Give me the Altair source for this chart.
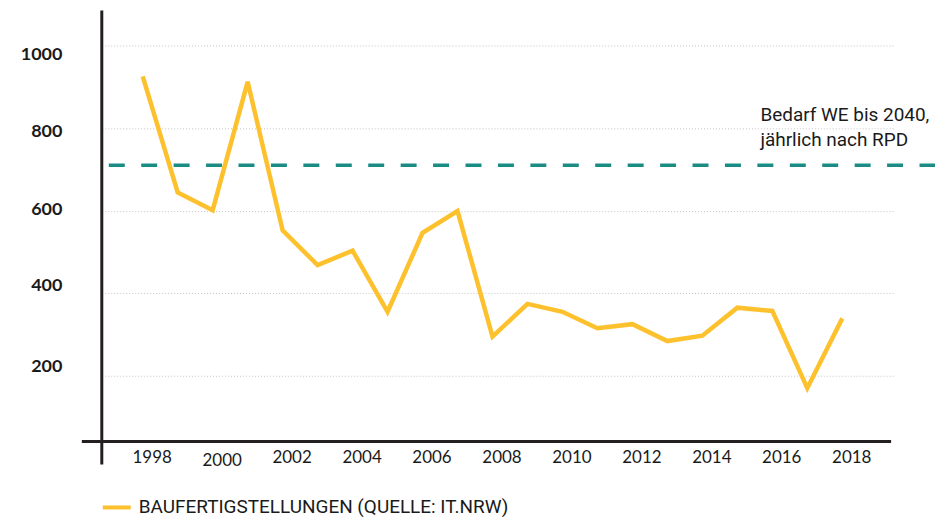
import altair as alt
import pandas as pd

years = list(range(1998, 2019))
values = [925, 644, 601, 912, 552, 468, 503, 355, 546, 599, 295,
          374, 355, 315, 325, 284, 297, 365, 357, 170, 339]
series_name = "BAUFERTIGSTELLUNGEN (QUELLE: IT.NRW)"
bedarf_value = 710
bedarf_text = "Bedarf WE bis 2040,\njährlich nach RPD"
y_ticks = [200, 400, 600, 800, 1000]
x_ticks = list(range(1998, 2019, 2))

YELLOW = "#FDC12E"
TEAL = "#1A8C84"
INK = "#231f20"

df = pd.DataFrame({"Jahr": years, "Wert": values, "Reihe": series_name})
df_bedarf = pd.DataFrame({"Wert": [bedarf_value], "txt": [bedarf_text]})
df_dummy = pd.DataFrame({"a": [0]})

W, H = 795, 432
xscale = alt.Scale(domain=[1996.83, 2019.51], nice=False, zero=False)
yscale = alt.Scale(domain=[40.5, 1084.6], nice=False, zero=False)

x_axis = alt.Axis(values=x_ticks, format="d", grid=False, domain=False, ticks=False,
                  labelFont="Lato", labelFontSize=17, labelColor="#1a1a1a",
                  labelPadding={"condition": {"test": "datum.value == 2000", "value": 11}, "value": 8},
                  labelOffset=9, labelOverlap=False, labelFlush=False, title=None)
y_axis = alt.Axis(values=y_ticks, format="d", grid=True, gridDash=[1, 2], gridColor="#c4c4c4", gridWidth=1,
                  domain=False, ticks=False, labelFont="Lato", labelFontWeight="bold",
                  labelFontSize=18, labelColor="#1a1a1a", labelPadding=40,
                  labelOffset={"condition": [
                      {"test": "datum.value == 1000", "value": 9},
                      {"test": "datum.value == 800", "value": 3},
                      {"test": "datum.value == 600", "value": -1},
                      {"test": "datum.value == 400", "value": -8}], "value": -9},
                  title=None)

y_enc = alt.Y("Wert:Q", scale=yscale, axis=y_axis)

line = alt.Chart(df).mark_line(strokeWidth=4.5, strokeJoin="miter").encode(
    x=alt.X("Jahr:Q", scale=xscale, axis=x_axis),
    y=y_enc,
    color=alt.Color("Reihe:N", scale=alt.Scale(domain=[series_name], range=[YELLOW]),
                    legend=alt.Legend(title=None, orient="none", legendX=-1, legendY=482,
                                      symbolType="stroke", symbolSize=784, symbolStrokeWidth=4,
                                      labelFont="Roboto", labelFontSize=19, labelColor="#1a1a1a",
                                      labelLimit=600, labelOffset=6, padding=0)),
)

bedarf = alt.Chart(df_bedarf).mark_rule(color=TEAL, strokeWidth=3.5, strokeDash=[16, 16.5]).encode(
    y=y_enc, x=alt.value(7), x2=alt.value(850)
)

note = alt.Chart(df_bedarf).mark_text(align="left", baseline="alphabetic", dy=-44, lineBreak="\n",
                                      lineHeight=25, font="Roboto", fontSize=19,
                                      color="#1a1a1a").encode(
    y=y_enc, x=alt.value(660), text="txt:N"
)

y_line = alt.Chart(df_dummy).mark_rule(color=INK, strokeWidth=3).encode(
    x=alt.value(0), y=alt.value(0), y2=alt.value(455)
)
x_line = alt.Chart(df_dummy).mark_rule(color=INK, strokeWidth=3).encode(
    y=alt.value(432), x=alt.value(-20), x2=alt.value(791)
)

chart = alt.layer(bedarf, line, note, y_line, x_line).properties(
    width=W, height=H,
    autosize=alt.AutoSizeParams(type="none"),
    padding={"left": 94, "top": 2, "right": 40, "bottom": 76},
    background="white",
).configure_view(stroke=None)

chart.save("out.html", embed_options={"renderer": "svg", "actions": False})
